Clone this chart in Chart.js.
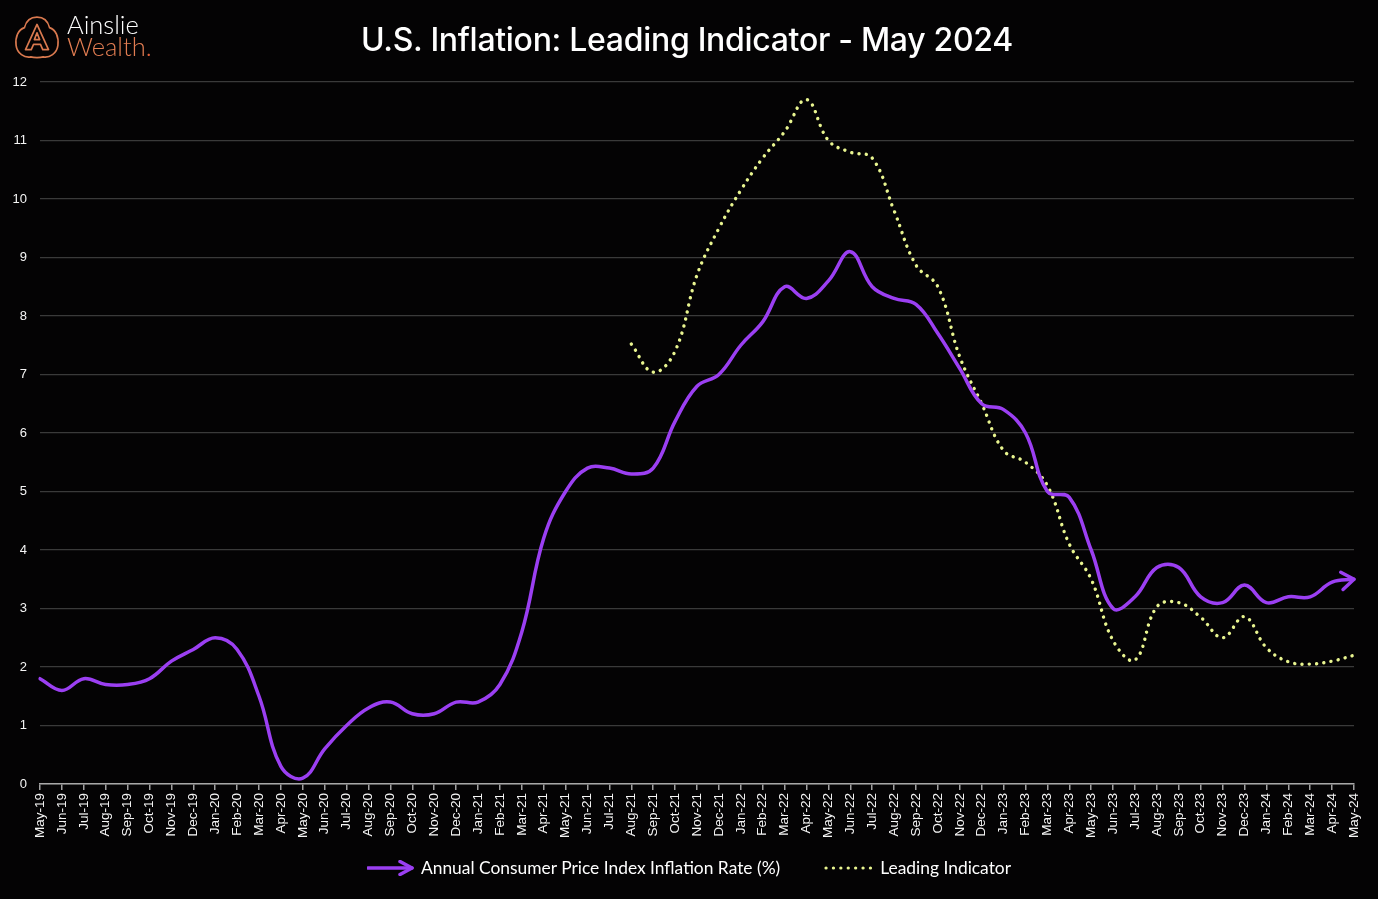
<!DOCTYPE html>
<html>
<head>
<meta charset="utf-8">
<script src="https://cdn.jsdelivr.net/npm/chart.js@4.4.1/dist/chart.umd.min.js"></script>
<style>
  html, body { margin: 0; padding: 0; background: #040304; }
  body { width: 1378px; height: 899px; position: relative; overflow: hidden; }
  #wrap { position: absolute; left: 0; top: 0; width: 1378px; height: 899px; }
  #title { position: absolute; left: 0; width: 1374px; top: 20px; text-align: center;
    font-family: Inter, "Noto Sans", sans-serif; font-weight: 500; font-size: 32px; color: #fff; letter-spacing: -0.3px; }
  #logo { position: absolute; left: 14px; top: 14px; }
  #brand { position: absolute; left: 67px; top: 13px; font-family: Lato, "Open Sans", sans-serif; font-weight: 300; font-size: 25.5px; line-height: 22px; }
  #brand .a { color: #fff; }
  #brand .w { color: #e27d52; }
  #legend { position: absolute; left: 0; width: 1378px; top: 857px; display: flex; justify-content: center; align-items: center;
    font-family: Lato, "Open Sans", sans-serif; font-size: 17.4px; color: #fff; }
  .item { display: flex; align-items: center; }
  .item svg { margin-right: 6px; }
</style>
</head>
<body>
<div id="wrap"><canvas id="c" width="1378" height="899"></canvas></div>
<svg id="logo" width="46" height="46" viewBox="0 0 44 44">
  <path d="M22,3 C30,3 33,9 34,13 C40,15 43,22 42,30 C41,38 34,42 28,41 C25,42 19,42 16,41 C10,42 3,38 2,30 C1,22 4,15 10,13 C11,9 14,3 22,3 Z" fill="none" stroke="#d9794f" stroke-width="1.6"/>
  <path d="M22,10 L33,34 L27.5,34 L25.3,29 L18.7,29 L16.5,34 L11,34 Z" fill="none" stroke="#d9794f" stroke-width="1.6" stroke-linejoin="round"/>
  <path d="M22,18 L24.5,24.5 L19.5,24.5 Z" fill="none" stroke="#d9794f" stroke-width="1.6" stroke-linejoin="round"/>
</svg>
<div id="brand"><div class="a">Ainslie</div><div class="w">Wealth<span style="color:#e2603a">.</span></div></div>
<div id="title">U.S. Inflation: Leading Indicator - May 2024</div>
<div id="legend">
  <div class="item" style="margin-right:44px">
    <svg width="48" height="16" viewBox="0 0 48 16"><line x1="1" y1="8" x2="45" y2="8" stroke="#9b3ff2" stroke-width="3.5" stroke-linecap="round"/><polyline points="33,1.5 45,8 33,14.5" fill="none" stroke="#9b3ff2" stroke-width="3.5" stroke-linecap="round" stroke-linejoin="round"/></svg>
    <span>Annual Consumer Price Index Inflation Rate (%)</span>
  </div>
  <div class="item">
    <svg width="50" height="10" viewBox="0 0 50 10"><line x1="2" y1="5" x2="48" y2="5" stroke="#e9f590" stroke-width="3.2" stroke-linecap="round" stroke-dasharray="0.1 7.3"/></svg>
    <span>Leading Indicator</span>
  </div>
</div>
<script>
const months = ["May-19","Jun-19","Jul-19","Aug-19","Sep-19","Oct-19","Nov-19","Dec-19",
  "Jan-20","Feb-20","Mar-20","Apr-20","May-20","Jun-20","Jul-20","Aug-20","Sep-20","Oct-20","Nov-20","Dec-20",
  "Jan-21","Feb-21","Mar-21","Apr-21","May-21","Jun-21","Jul-21","Aug-21","Sep-21","Oct-21","Nov-21","Dec-21",
  "Jan-22","Feb-22","Mar-22","Apr-22","May-22","Jun-22","Jul-22","Aug-22","Sep-22","Oct-22","Nov-22","Dec-22",
  "Jan-23","Feb-23","Mar-23","Apr-23","May-23","Jun-23","Jul-23","Aug-23","Sep-23","Oct-23","Nov-23","Dec-23",
  "Jan-24","Feb-24","Mar-24","Apr-24","May-24"];

const cpi = [1.8,1.6,1.8,1.7,1.7,1.8,2.1,2.3,
  2.5,2.3,1.5,0.3,0.1,0.6,1.0,1.3,1.4,1.2,1.2,1.4,
  1.4,1.7,2.6,4.2,5.0,5.4,5.4,5.3,5.4,6.2,6.8,7.0,
  7.5,7.9,8.5,8.3,8.6,9.1,8.5,8.3,8.2,7.7,7.1,6.5,
  6.4,6.0,5.0,4.9,4.0,3.0,3.2,3.7,3.7,3.2,3.1,3.4,
  3.1,3.2,3.2,3.45,3.5];

const leading = [null,null,null,null,null,null,null,null,
  null,null,null,null,null,null,null,null,null,null,null,null,
  null,null,null,null,null,null,null,7.52,7.04,7.4,8.7,9.5,
  10.15,10.7,11.15,11.7,11.0,10.8,10.7,9.8,8.87,8.5,7.3,6.5,
  5.7,5.5,5.1,4.1,3.5,2.45,2.12,3.03,3.1,2.85,2.5,2.86,
  2.33,2.09,2.05,2.1,2.2];

const yTicks = [0,1,2,3,4,5,6,7,8,9,10,11,12];

const purple = '#9b3ff2';
const yellow = '#e9f590';

const arrowPlugin = {
  id: 'arrowEnd',
  afterDatasetsDraw(chart) {
    const meta = chart.getDatasetMeta(0);
    const pts = meta.data;
    const last = pts[pts.length - 1];
    let cx = last.cp1x, cy = last.cp1y;
    if (cx === undefined || (cx === last.x && cy === last.y)) { cx = pts[pts.length-2].x; cy = pts[pts.length-2].y; }
    const ang = Math.atan2(last.y - cy, last.x - cx);
    const ctx = chart.ctx;
    const L = 15, spread = 0.62;
    ctx.save();
    ctx.strokeStyle = purple;
    ctx.lineWidth = 3.5;
    ctx.lineCap = 'round';
    ctx.lineJoin = 'round';
    ctx.beginPath();
    ctx.moveTo(last.x - L*Math.cos(ang - spread), last.y - L*Math.sin(ang - spread));
    ctx.lineTo(last.x, last.y);
    ctx.lineTo(last.x - L*Math.cos(ang + spread), last.y - L*Math.sin(ang + spread));
    ctx.stroke();
    ctx.restore();
  }
};

new Chart(document.getElementById('c'), {
  type: 'line',
  data: {
    labels: months,
    datasets: [
      { label: 'Annual Consumer Price Index Inflation Rate (%)', data: cpi, borderColor: purple, borderWidth: 3.5,
        pointRadius: 0, tension: 0.4, fill: false, borderCapStyle: 'round', borderJoinStyle: 'round' },
      { label: 'Leading Indicator', data: leading, borderColor: yellow, borderWidth: 3.4, borderDash: [0.1, 7.2],
        borderCapStyle: 'round', pointRadius: 0, tension: 0.4, fill: false, spanGaps: false }
    ]
  },
  options: {
    responsive: false,
    animation: false,
    layout: { padding: { left: 0, right: 24, top: 82, bottom: 0 } },
    plugins: { legend: { display: false }, tooltip: { enabled: false }, title: { display: false } },
    scales: {
      x: {
        offset: false,
        grid: { display: true, drawOnChartArea: false, drawTicks: true, tickLength: 6, color: '#a0a0a0', lineWidth: 1.5 },
        border: { display: true, color: '#a8a8a8', width: 1.5 },
        ticks: { autoSkip: false, maxRotation: 90, minRotation: 90, color: '#f5f5f5', padding: 3,
          font: { family: '"Liberation Sans", Arial, sans-serif', size: 13.5 } },
        afterFit(scale) { scale.height = 899 - 784; }
      },
      y: {
        min: 0, max: 12,
        afterBuildTicks(scale) { scale.ticks = yTicks.map(v => ({ value: v })); },
        grid: { color: '#3a3a3a', lineWidth: 1.2, drawTicks: false },
        border: { display: false },
        ticks: { color: '#f5f5f5', padding: 13, font: { family: '"Liberation Sans", Arial, sans-serif', size: 13 } },
        afterFit(scale) { scale.width = 40; }
      }
    }
  },
  plugins: [arrowPlugin]
});
</script>
</body>
</html>
